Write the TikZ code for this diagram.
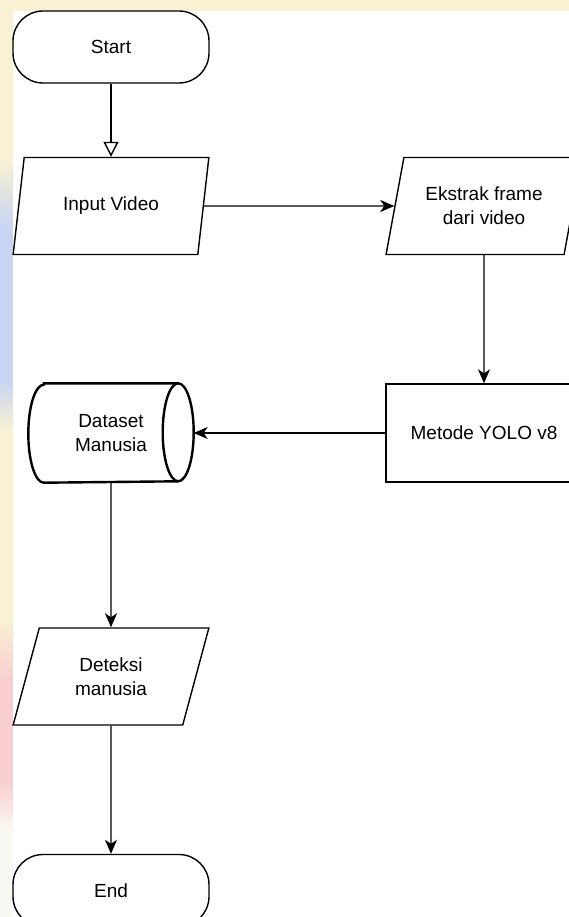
\documentclass[tikz,border=0pt]{standalone}
\usepackage{fontspec}
\setmainfont{Liberation Sans}
\usetikzlibrary{arrows.meta,shapes.geometric}
\definecolor{flowline}{HTML}{000000}
\definecolor{bgcream}{HTML}{F8F1D3}
\definecolor{bgblue}{HTML}{C8D4F2}
\definecolor{bgpink}{HTML}{F8CED0}
\definecolor{bgpale}{HTML}{FAF8F2}
\tikzset{
  base/.style={
    draw=flowline,
    line width=1.4pt,
    fill=white,
    align=center,
    font=\fontsize{19}{24}\selectfont,
    inner sep=0pt
  },
  terminal/.style={base, rectangle, rounded corners=30pt, minimum width=196pt, minimum height=72pt},
  io/.style={base, trapezium, trapezium left angle=71, trapezium right angle=109,
    trapezium stretches=true, minimum width=196pt, minimum height=97pt},
  process/.style={base, rectangle, minimum width=196pt, minimum height=98pt},
  storebox/.style={base, draw=none, fill=none, rectangle, minimum width=164pt, minimum height=98pt},
  storeline/.style={draw=flowline, line width=2.4pt},
  flow/.style={-{Stealth[length=14pt, width=12pt, inset=4pt]}, line width=1.4pt, draw=flowline},
  openflow/.style={-{Triangle[open, length=15pt, width=15pt]}, line width=1.4pt, draw=flowline}
}

\begin{document}
\begin{tikzpicture}[x=1pt,y=-1pt]

\useasboundingbox (0,0) rectangle (569,917);

% backdrop behind the canvas
\fill[bgcream] (0,0) rectangle (569,11);
\fill[bgcream] (0,0) rectangle (13,160);
\shade[top color=bgcream, bottom color=bgblue] (0,160) rectangle (13,230);
\fill[bgblue] (0,230) rectangle (13,380);
\shade[top color=bgblue, bottom color=bgcream] (0,380) rectangle (13,430);
\fill[bgcream] (0,430) rectangle (13,620);
\shade[top color=bgcream, bottom color=bgpink] (0,620) rectangle (13,680);
\fill[bgpink] (0,680) rectangle (13,780);
\shade[top color=bgpink, bottom color=bgpale] (0,780) rectangle (13,830);
\fill[bgpale] (0,830) rectangle (13,917);
\fill[white] (13,11) rectangle (569,917);

\node[terminal] (start) at (111,47) {Start};
\node[io] (input) at (111,206) {Input Video};
\node[io] (ekstrak) at (484,206) {Ekstrak frame\\dari video};
\node[process] (yolo) at (484,433) {Metode YOLO v8};
\node[io] (deteksi) at (111,676.5) {Deteksi\\manusia};
\node[terminal] (end) at (111,890.5) {End};

% data store drawn round its text node
\node[storebox] (dataset) at (111,433) {};
\draw[storeline, fill=white]
  ([xshift=15.5pt]dataset.north west) -- ([xshift=-15.5pt]dataset.north east)
  arc[start angle=90, end angle=-90, x radius=15.5pt, y radius=49pt]
  -- ([xshift=15.5pt]dataset.south west)
  arc[start angle=270, end angle=90, x radius=15.5pt, y radius=49pt] -- cycle;
\draw[storeline] ([xshift=-15.5pt]dataset.north east)
  arc[start angle=90, end angle=270, x radius=15.5pt, y radius=49pt];
\node[base, draw=none, fill=none] (datasettext) at (dataset.center) {Dataset\\Manusia};

\draw[openflow] (start) -- (input);
\draw[flow] (input) -- (ekstrak);
\draw[flow] (ekstrak) -- (yolo);
\draw[flow] (yolo) -- (dataset);
\draw[flow] (dataset) -- (deteksi);
\draw[flow] (deteksi) -- (end);

\end{tikzpicture}
\end{document}
